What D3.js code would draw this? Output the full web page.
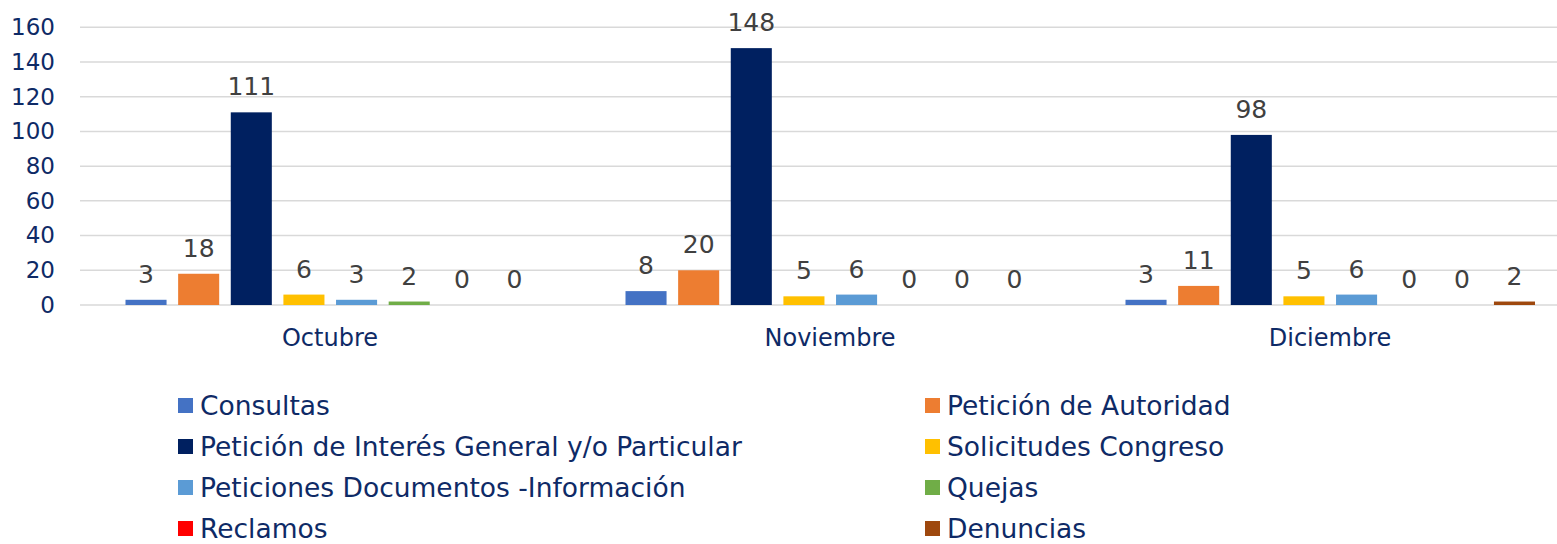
<!DOCTYPE html>
<html>
<head>
<meta charset="utf-8">
<script src="https://cdn.jsdelivr.net/npm/d3@7"></script>
<style>
  body { margin: 0; background: #fff; }
  svg { display: block; font-family: "DejaVu Sans", Verdana, sans-serif; }
</style>
</head>
<body>
<script>
const months = ['Octubre', 'Noviembre', 'Diciembre'];
const series = [
  'Consultas',
  'Petición de Autoridad',
  'Petición de Interés General y/o Particular',
  'Solicitudes Congreso',
  'Peticiones Documentos -Información',
  'Quejas',
  'Reclamos',
  'Denuncias',
];
const colors = ['#4472C4', '#ED7D31', '#002060', '#FFC000', '#5B9BD5', '#70AD47', '#FF0000', '#9E480E'];
// one array per month, in series order
const octubre = [3, 18, 111, 6, 3, 2, 0, 0];
const noviembre = [8, 20, 148, 5, 6, 0, 0, 0];
const diciembre = [3, 11, 98, 5, 6, 0, 0, 2];
const yTicks = [0, 20, 40, 60, 80, 100, 120, 140, 160];

const values = [octubre, noviembre, diciembre];
const width = 1557;
const height = 544;
const navy = '#0E2A66';

const svg = d3.select('body').append('svg')
  .attr('width', width)
  .attr('height', height);

const x0 = d3.scaleBand().domain(months).range([80, 1580]).padding(0);
const x1 = d3.scaleBand().domain(series).range([45.5, 455]).paddingInner(0.22).paddingOuter(0);
const y = d3.scaleLinear().domain([0, 160]).range([305, 27.3]);

// gridlines
svg.append('g')
  .selectAll('line')
  .data(yTicks)
  .enter()
  .append('line')
  .attr('x1', 80)
  .attr('x2', width)
  .attr('y1', d => y(d))
  .attr('y2', d => y(d))
  .attr('stroke', '#d9d9d9')
  .attr('stroke-width', 1.5);

// y axis labels
const yAxis = svg.append('g')
  .attr('transform', 'translate(80,0)')
  .call(d3.axisLeft(y).tickValues(yTicks).tickSize(0).tickPadding(25));
yAxis.select('.domain').remove();
yAxis.selectAll('text')
  .attr('fill', navy)
  .style('font-size', '23px')
  .style('font-family', '"DejaVu Sans", Verdana, sans-serif');

// bars
const groups = svg.append('g')
  .selectAll('g')
  .data(months)
  .enter()
  .append('g')
  .attr('transform', d => `translate(${x0(d)},0)`);

const cells = groups.selectAll('.cell')
  .data((m, i) => series.map((s, j) => ({ s, v: values[i][j], c: colors[j] })))
  .enter();

cells.append('rect')
  .attr('x', d => x1(d.s))
  .attr('width', x1.bandwidth())
  .attr('y', d => y(d.v))
  .attr('height', d => y(0) - y(d.v))
  .attr('fill', d => d.c);

cells.append('text')
  .attr('x', d => x1(d.s) + x1.bandwidth() / 2)
  .attr('y', d => y(d.v) - 17)
  .attr('text-anchor', 'middle')
  .attr('fill', '#404040')
  .style('font-size', '25px')
  .text(d => d.v);

// category labels
svg.append('g')
  .selectAll('text')
  .data(months)
  .enter()
  .append('text')
  .attr('x', d => x0(d) + x0.bandwidth() / 2)
  .attr('y', 346)
  .attr('text-anchor', 'middle')
  .attr('fill', navy)
  .style('font-size', '24px')
  .text(d => d);

// legend, two columns (kept a little above the bottom edge)
const legend = svg.append('g')
  .selectAll('g')
  .data(series)
  .enter()
  .append('g')
  .attr('transform', (d, i) => `translate(${i % 2 === 0 ? 178 : 925},${405.5 + Math.floor(i / 2) * 41})`);

legend.append('rect')
  .attr('x', 0)
  .attr('y', -7.5)
  .attr('width', 15)
  .attr('height', 15)
  .attr('fill', (d, i) => colors[i]);

legend.append('text')
  .attr('x', 22)
  .attr('dy', '0.34em')
  .attr('fill', navy)
  .style('font-size', '26.5px')
  .text(d => d);
</script>
</body>
</html>
